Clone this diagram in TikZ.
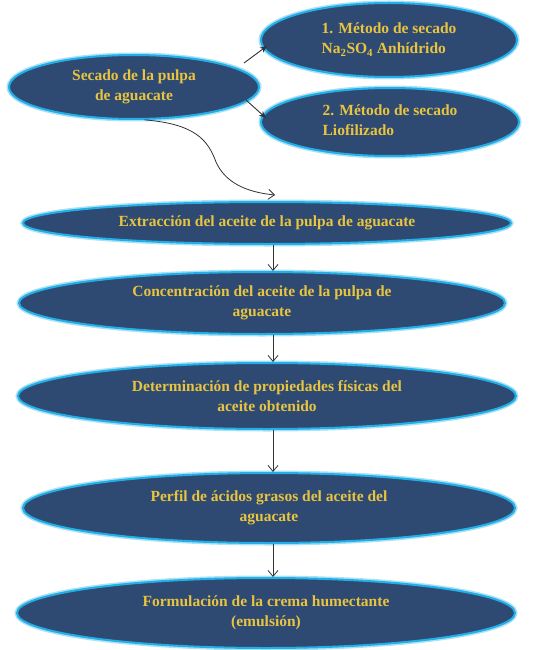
\documentclass[tikz,border=0pt]{standalone}
\usepackage{fontspec}
\setmainfont{Liberation Serif}
\usetikzlibrary{shapes.geometric,arrows.meta}
\definecolor{ovfill}{HTML}{2E4A72}
\definecolor{ovedge}{HTML}{22AEE6}
\definecolor{ovglow}{HTML}{A9E1F5}
\definecolor{ovtext}{HTML}{E8C440}
\definecolor{arr}{HTML}{333333}
\tikzset{
  oval/.style={ellipse, fill=ovfill, draw=ovedge, line width=2pt, inner sep=0pt,
    text=ovtext, font=\fontsize{15.5}{20}\selectfont\bfseries, align=center,
    preaction={draw=ovglow, line width=5pt}},
  flow/.style={draw=arr, line width=0.8pt, -{Straight Barb[length=6pt,width=10pt]}},
  sideflow/.style={draw=arr, line width=0.9pt, -{Stealth[length=7pt,width=6pt]}},
}
\begin{document}
\begin{tikzpicture}[x=1pt,y=-1pt]
\useasboundingbox (0,0) rectangle (540,650);
\node[oval, minimum width=250pt, minimum height=64pt] (sec) at (134,87) {Secado de la pulpa\\de aguacate};
\node[oval, minimum width=256pt, minimum height=74pt] (m1) at (389,40) {\begin{tabular}{@{}l@{}}1. Método de secado\\Na\textsubscript{2}SO\textsubscript{4} Anhídrido\end{tabular}};
\node[oval, minimum width=258pt, minimum height=68pt] (m2) at (390,122) {\begin{tabular}{@{}l@{}}2. Método de secado\\Liofilizado\end{tabular}};
\node[oval, minimum width=488pt, minimum height=42pt] (ext) at (267,223) {Extracción del aceite de la pulpa de aguacate};
\node[oval, minimum width=486pt, minimum height=62pt] (con) at (262,303) {Concentración del aceite de la pulpa de\\aguacate};
\node[oval, minimum width=498pt, minimum height=66pt] (det) at (267,396) {Determinación de propiedades físicas del\\aceite obtenido};
\node[oval, minimum width=492pt, minimum height=70pt] (per) at (269,508) {Perfil de ácidos grasos del aceite del\\aguacate};
\node[oval, minimum width=498pt, minimum height=70pt] (for) at (266,613) {Formulación de la crema humectante\\(emulsión)};
\coordinate (curveend) at (275,195);
\draw[sideflow] ([shift={(-16,-24)}]sec.east) -- ([shift={(7,6)}]m1.west);
\draw[sideflow] ([shift={(-14,13)}]sec.east) -- ([shift={(6,-4)}]m2.west);
\draw[flow] (sec.-72) .. controls (195,124) and (208,140) .. (216,162) .. controls (225,182) and (245,192) .. (curveend);
\draw[flow] (ext.south -| 273,0) -- (con.north -| 273,0);
\draw[flow] (con.south -| 273,0) -- (det.north -| 273,0);
\draw[flow] (det.south -| 273,0) -- (per.north -| 273,0);
\draw[flow] (per.south -| 273,0) -- (for.north -| 273,0);
\end{tikzpicture}
\end{document}
